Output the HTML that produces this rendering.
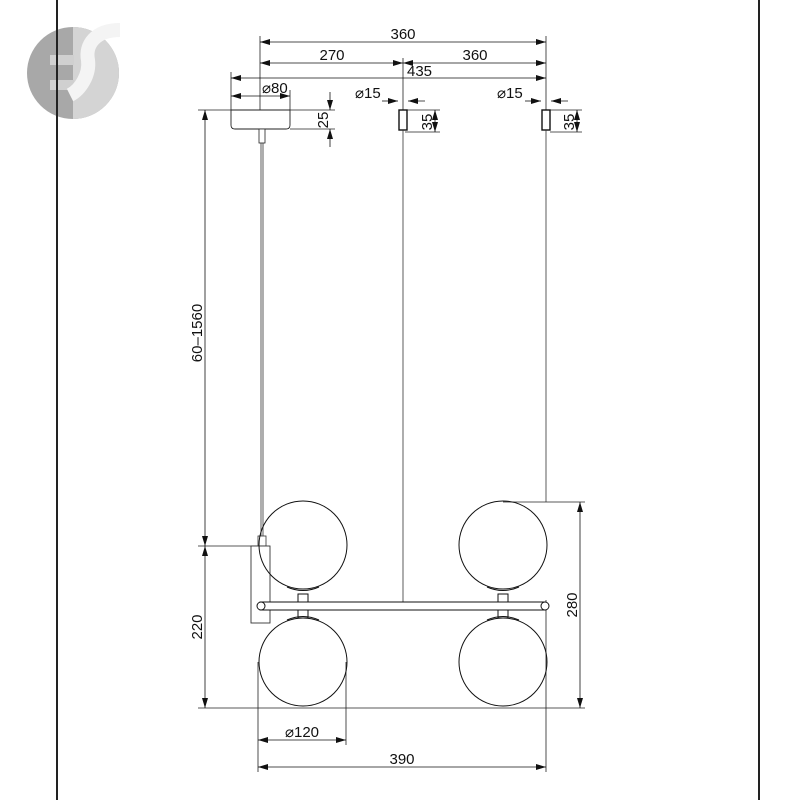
<!DOCTYPE html>
<html><head><meta charset="utf-8"><style>
html,body{margin:0;padding:0;background:#fff;}
svg{display:block;}
text{font-family:"Liberation Sans",sans-serif;font-size:15px;fill:#111;}
</style></head><body>
<svg width="800" height="800" viewBox="0 0 800 800" xmlns="http://www.w3.org/2000/svg">
<defs>
<marker id="a" viewBox="0 0 10 6" refX="10" refY="3" markerWidth="10" markerHeight="6" orient="auto-start-reverse" markerUnits="userSpaceOnUse"><path d="M0,0 L10,3 L0,6z" fill="#111"/></marker>
</defs>
<g>
<circle cx="73" cy="73" r="46" fill="#a8a8a8"/>
<path d="M73,27 A46,46 0 0 1 73,119 Z" fill="#d4d4d4"/>
<rect x="50" y="55" width="24" height="10" fill="#d0d0d0"/>
<rect x="50" y="80" width="24" height="10" fill="#d0d0d0"/>
<path d="M120,30 C95,30 85,45 88,60 C90,75 80,90 70,95" stroke="#f4f4f4" stroke-width="14" fill="none"/>
</g>
<line x1="57" y1="0" x2="57" y2="800" stroke="#222" stroke-width="2"/>
<line x1="759" y1="0" x2="759" y2="800" stroke="#222" stroke-width="2"/>

<g stroke="#222" stroke-width="0.8" fill="none">
<line x1="260" y1="36" x2="260" y2="110"/>
<line x1="546" y1="36" x2="546" y2="110"/>
<line x1="403" y1="58" x2="403" y2="110"/>
<line x1="231" y1="72" x2="231" y2="110"/>
<line x1="290" y1="90" x2="290" y2="110"/>
<line x1="198" y1="110" x2="335" y2="110"/>
<line x1="290" y1="129" x2="335" y2="129"/>
<line x1="405" y1="110" x2="440" y2="110"/>
<line x1="405" y1="132" x2="440" y2="132"/>
<line x1="550" y1="110" x2="582" y2="110"/>
<line x1="550" y1="132" x2="582" y2="132"/>
<line x1="198" y1="546" x2="262" y2="546"/>
<line x1="198" y1="708" x2="585" y2="708"/>
<line x1="503" y1="502" x2="585" y2="502"/>
<line x1="258" y1="662" x2="258" y2="772"/>
<line x1="346" y1="662" x2="346" y2="745"/>
<line x1="546" y1="600" x2="546" y2="772"/>
</g>
<g stroke="#111" stroke-width="0.8" fill="none" marker-start="url(#a)" marker-end="url(#a)">
<line x1="260" y1="42" x2="546" y2="42"/>
<line x1="260" y1="63" x2="403" y2="63"/>
<line x1="403" y1="63" x2="546" y2="63"/>
<line x1="231" y1="78" x2="546" y2="78"/>
<line x1="231" y1="96" x2="290" y2="96"/>
<line x1="205" y1="110" x2="205" y2="546"/>
<line x1="205" y1="546" x2="205" y2="708"/>
<line x1="580" y1="502" x2="580" y2="708"/>
<line x1="258" y1="740" x2="346" y2="740"/>
<line x1="258" y1="767" x2="546" y2="767"/>
</g>
<g stroke="#111" stroke-width="0.8" marker-end="url(#a)">
<line x1="330" y1="92" x2="330" y2="110"/>
<line x1="330" y1="147" x2="330" y2="129"/>
<line x1="382" y1="101" x2="398" y2="101"/>
<line x1="425" y1="101" x2="408" y2="101"/>
<line x1="525" y1="101" x2="541" y2="101"/>
<line x1="568" y1="101" x2="551" y2="101"/>
<line x1="435" y1="122" x2="435" y2="110"/>
<line x1="435" y1="122" x2="435" y2="132"/>
<line x1="577" y1="122" x2="577" y2="110"/>
<line x1="577" y1="122" x2="577" y2="132"/>
</g>

<path d="M231,110 H290 V125 Q290,129 286,129 H235 Q231,129 231,125 Z" fill="#fff" stroke="#222" stroke-width="0.9"/>
<rect x="259" y="129" width="6" height="14" fill="#fff" stroke="#222" stroke-width="0.8"/>
<rect x="399" y="110" width="8" height="20" fill="#fff" stroke="#111" stroke-width="1.4"/>
<rect x="542" y="110" width="8" height="20" fill="#fff" stroke="#111" stroke-width="1.4"/>
<line x1="403" y1="130" x2="403" y2="602" stroke="#333" stroke-width="0.8"/>
<line x1="546" y1="130" x2="546" y2="502" stroke="#333" stroke-width="0.8"/>
<line x1="261" y1="143" x2="261" y2="536" stroke="#333" stroke-width="0.8"/>
<line x1="263" y1="143" x2="263" y2="536" stroke="#333" stroke-width="0.8"/>
<rect x="258" y="536" width="8" height="10" fill="#fff" stroke="#333" stroke-width="0.8"/>

<rect x="251" y="546" width="19" height="77" fill="#fff" stroke="#333" stroke-width="0.9"/>

<g fill="none" stroke="#111" stroke-width="1">
<circle cx="303" cy="545" r="44"/>
<circle cx="303" cy="662" r="44"/>
<circle cx="503" cy="545" r="44"/>
<circle cx="503" cy="662" r="44"/>
<path d="M287,587 Q303,594 319,587"/>
<path d="M487,587 Q503,594 519,587"/>
<path d="M287,620 Q303,613 319,620"/>
<path d="M487,620 Q503,613 519,620"/>
<rect x="298" y="594" width="10" height="8"/>
<rect x="498" y="594" width="10" height="8"/>
<rect x="298" y="610" width="10" height="8"/>
<rect x="498" y="610" width="10" height="8"/>
</g>
<rect x="260" y="602" width="286" height="8" fill="#fff" stroke="#111" stroke-width="1"/>
<circle cx="261" cy="606" r="4" fill="#fff" stroke="#111" stroke-width="1"/>
<circle cx="545" cy="606" r="4" fill="#fff" stroke="#111" stroke-width="1"/>

<text x="403" y="39" text-anchor="middle">360</text>
<text x="332" y="60" text-anchor="middle">270</text>
<text x="475" y="60" text-anchor="middle">360</text>
<text x="407" y="76">435</text>
<text x="262" y="93">⌀80</text>
<text x="355" y="98">⌀15</text>
<text x="497" y="98">⌀15</text>
<text transform="translate(328,120) rotate(-90)" text-anchor="middle">25</text>
<text transform="translate(432,122) rotate(-90)" text-anchor="middle">35</text>
<text transform="translate(574,122) rotate(-90)" text-anchor="middle">35</text>
<text transform="translate(202,333) rotate(-90)" text-anchor="middle">60–1560</text>
<text transform="translate(202,627) rotate(-90)" text-anchor="middle">220</text>
<text transform="translate(577,605) rotate(-90)" text-anchor="middle">280</text>
<text x="302" y="737" text-anchor="middle">⌀120</text>
<text x="402" y="764" text-anchor="middle">390</text>
</svg>
</body></html>
